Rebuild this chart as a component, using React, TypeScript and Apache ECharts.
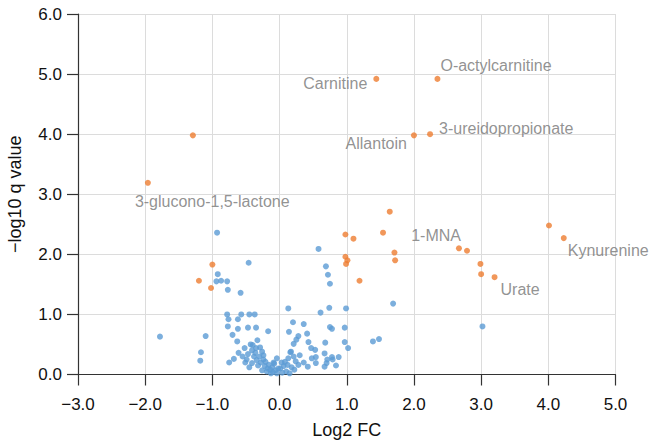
import React, { useEffect, useRef } from "react";
import * as echarts from "echarts";

// Non-significant metabolites [log2 FC, -log10 q]
const bluePoints: number[][] = [
  [-1.78, 0.63], [-1.17, 0.37], [-1.18, 0.23], [-1.10, 0.64],
  [-0.93, 2.36], [-0.46, 1.86], [-0.92, 1.67], [-0.94, 1.55], [-0.87, 1.56], [-0.78, 1.55], [-0.77, 1.41], [-0.58, 1.36],
  [-0.78, 1.00], [-0.76, 0.92], [-0.57, 1.00], [-0.62, 0.92], [-0.45, 1.00], [-0.37, 1.00],
  [-0.77, 0.80], [-0.62, 0.76], [-0.47, 0.78], [-0.35, 0.78],
  [-0.70, 0.66], [-0.63, 0.55], [-0.61, 0.36], [-0.75, 0.20], [-0.68, 0.26],
  [-0.17, 0.72], [-0.33, 0.57], [-0.43, 0.50], [-0.51, 0.20],
  [-0.47, 0.34], [-0.41, 0.40], [-0.35, 0.44], [-0.29, 0.45], [-0.26, 0.38], [-0.24, 0.32], [-0.49, 0.25],
  [-0.41, 0.19], [-0.45, 0.12], [-0.34, 0.24], [-0.21, 0.21], [-0.16, 0.16], [-0.11, 0.12], [-0.06, 0.07],
  [-0.04, 0.27], [-0.26, 0.07], [-0.19, 0.05],
  [-0.30, 0.30], [-0.38, 0.30], [-0.28, 0.20], [-0.22, 0.14], [-0.14, 0.08], [-0.10, 0.04], [-0.08, 0.18],
  [-0.02, 0.10], [-0.13, 0.02], [-0.04, 0.02], [-0.32, 0.15], [-0.18, 0.10], [-0.36, 0.36], [-0.52, 0.44],
  [-0.40, 0.49], [-0.55, 0.30], [-0.24, 0.25], [-0.09, 0.20],
  [0.13, 1.10], [0.20, 0.87], [0.36, 0.84], [0.14, 0.71], [0.28, 0.64], [0.25, 0.58], [0.21, 0.51],
  [0.41, 0.68], [0.43, 0.54], [0.47, 0.44], [0.53, 0.41],
  [0.58, 2.09], [0.69, 1.80], [0.72, 1.66], [0.75, 1.51], [0.61, 1.03], [0.74, 1.11], [0.99, 1.10],
  [0.75, 0.79], [0.78, 0.76], [0.97, 0.78], [0.68, 0.53], [0.97, 0.54], [1.02, 0.44],
  [0.67, 0.35], [0.78, 0.29], [0.88, 0.29], [0.84, 0.15], [0.70, 0.19], [0.67, 0.13], [0.54, 0.29],
  [0.48, 0.27], [0.54, 0.19], [0.42, 0.13], [0.36, 0.20], [0.28, 0.16],
  [1.39, 0.55], [1.48, 0.59], [1.69, 1.18], [3.02, 0.80],
  [0.17, 0.38], [0.21, 0.30], [0.13, 0.27], [0.08, 0.21], [0.06, 0.14], [0.01, 0.10], [0.16, 0.37],
  [0.79, 0.25], [0.71, 0.25],
  [0.10, 0.05], [0.04, 0.03], [0.18, 0.12], [0.24, 0.22], [0.12, 0.16], [0.03, 0.20], [0.22, 0.08],
  [0.30, 0.32], [0.15, 0.02],
];

// Significant metabolites [log2 FC, -log10 q]
const orangePoints: number[][] = [
  [-1.29, 3.98], [-1.96, 3.19], [1.44, 4.92], [2.35, 4.92], [2.00, 3.98], [2.24, 4.00],
  [1.64, 2.71], [0.98, 2.33], [1.10, 2.26], [1.54, 2.36], [1.71, 2.03], [1.72, 1.90],
  [0.98, 1.96], [1.01, 1.90], [0.99, 1.84], [1.19, 1.56],
  [2.67, 2.10], [2.79, 2.06], [2.99, 1.84], [3.00, 1.67], [3.20, 1.62],
  [4.01, 2.48], [4.23, 2.27],
  [-1.00, 1.83], [-1.20, 1.56], [-1.02, 1.44],
];

// Names of labelled significant metabolites (same order as orangePoints)
const orangeNames: string[] = [
  "", "3-glucono-1,5-lactone", "Carnitine", "O-actylcarnitine", "Allantoin", "3-ureidopropionate",
  "", "", "", "", "", "",
  "", "", "", "",
  "1-MNA", "", "", "", "Urate",
  "", "Kynurenine",
  "", "", "",
];

const xTicks = { min: -3, max: 5, interval: 1 };
const yTicks = { min: 0, max: 6, interval: 1 };

const labelPlacement: Record<string, { align: string; offset: number[] }> = {
  "O-actylcarnitine": { align: "left", offset: [3, -13] },
  Carnitine: { align: "right", offset: [-9, 5] },
  "3-ureidopropionate": { align: "left", offset: [9, -6] },
  Allantoin: { align: "right", offset: [-7, 8] },
  "3-glucono-1,5-lactone": { align: "left", offset: [-13, 19] },
  "1-MNA": { align: "right", offset: [2, -13] },
  Urate: { align: "left", offset: [6, 12] },
  Kynurenine: { align: "left", offset: [4, 12] },
};

const FONT = "'Liberation Sans', Arial, sans-serif";
const fmt = (v: number) => (v < 0 ? "\u2212" + Math.abs(v).toFixed(1) : v.toFixed(1));

export default function App() {
  const ref = useRef<HTMLDivElement>(null);
  useEffect(() => {
    if (!ref.current) return;
    const chart = echarts.init(ref.current, undefined, { renderer: "svg" });
    const orangeData = orangePoints.map((p, i) => {
      const name = orangeNames[i];
      if (!name) return { value: p };
      const pl = labelPlacement[name];
      return {
        value: p,
        name,
        label: {
          show: true,
          formatter: name,
          position: "inside",
          align: pl.align,
          verticalAlign: "middle",
          offset: pl.offset,
          color: "#767676",
          fontSize: 16,
          fontFamily: FONT,
        },
      };
    });
    const axisCommon = {
      axisLine: { show: true, onZero: false, lineStyle: { color: "#333", width: 1.2 } },
      axisTick: { show: true, length: 11, lineStyle: { color: "#333", width: 1.2 } },
      splitLine: { show: true, lineStyle: { color: "#dcdcdc", width: 1 } },
      nameTextStyle: { color: "#111", fontSize: 18, fontFamily: FONT },
    };
    chart.setOption({
      animation: false,
      backgroundColor: "#fff",
      grid: {
        left: 78,
        right: 33.5,
        top: 14,
        bottom: 68.5,
        containLabel: false,
        outerBoundsMode: "none",
      },
      xAxis: {
        type: "value",
        ...xTicks,
        ...axisCommon,
        name: "Log2 FC",
        nameLocation: "middle",
        nameGap: 46,
        axisLabel: { color: "#111", fontSize: 17, fontFamily: FONT, margin: 21, formatter: fmt },
      },
      yAxis: {
        type: "value",
        ...yTicks,
        ...axisCommon,
        name: "\u2212log10 q value",
        nameLocation: "middle",
        nameGap: 54,
        axisLabel: { color: "#111", fontSize: 17, fontFamily: FONT, margin: 16, formatter: fmt },
      },
      series: [
        {
          type: "scatter",
          symbolSize: 6,
          itemStyle: { color: "#5b9bd5" },
          data: bluePoints,
          silent: true,
        },
        {
          type: "scatter",
          symbolSize: 6,
          itemStyle: { color: "#ed7d31" },
          data: orangeData,
          silent: true,
        },
      ],
    });
    return () => chart.dispose();
  }, []);
  return (
    <div
      ref={ref}
      style={{ position: "fixed", left: 0, top: 0, width: 649, height: 443, background: "#fff" }}
    />
  );
}
